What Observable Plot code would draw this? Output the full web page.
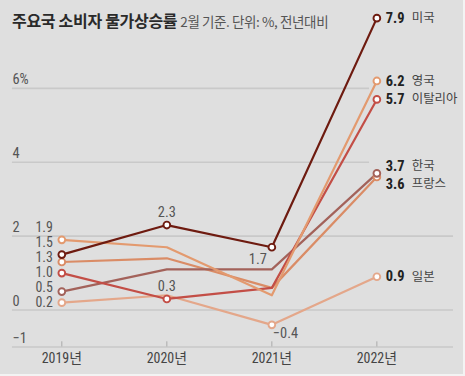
<!DOCTYPE html>
<html>
<head>
<meta charset="utf-8">
<script src="https://cdn.jsdelivr.net/npm/d3@7"></script>
<script src="https://cdn.jsdelivr.net/npm/@observablehq/plot@0.6"></script>
<style>
  html, body { margin: 0; padding: 0; background: #f3f3f3; }
  #wrap { position: relative; width: 463px; height: 374px; background: #dfdfdf; overflow: hidden; }
  #title { position: absolute; left: 12px; top: 8px; white-space: nowrap; font-family: "Noto Sans CJK KR", "Noto Sans", sans-serif; }
  #title b { font-size: 16px; font-weight: 700; color: #2a2a2a; letter-spacing: -0.3px; }
  #title span { font-size: 13.5px; color: #555; margin-left: 3px; letter-spacing: -0.4px; }
  #chart { position: absolute; left: 0; top: 0; }
</style>
</head>
<body>
<div id="wrap">
  <div id="chart"></div>
  <div id="title"><b>주요국 소비자 물가상승률</b><span>2월 기준. 단위: %, 전년대비</span></div>
</div>
<script>
// ---- data ----
const years = [2019, 2020, 2021, 2022];
const xTickLabels = ["2019년", "2020년", "2021년", "2022년"];
const countries = ["일본", "프랑스", "한국", "이탈리아", "영국", "미국"];
const japan  = [0.2, 0.4, -0.4, 0.9];
const france = [1.3, 1.4, 0.6, 3.6];
const korea  = [0.5, 1.1, 1.1, 3.7];
const italy  = [1.0, 0.3, 0.6, 5.7];
const uk     = [1.9, 1.7, 0.4, 6.2];
const us     = [1.5, 2.3, 1.7, 7.9];
const series = [japan, france, korea, italy, uk, us];
const colors = ["#e4a78a", "#da8c66", "#a3625a", "#c34e46", "#e39a6f", "#6e1b10"];
const yTicks = [-1, 0, 2, 4, 6];
const yTickLabels = ["−1", "0", "2", "4", "6%"];

// ---- build table ----
const rows = countries.flatMap((c, i) => years.map((yr, j) => ({country: c, year: yr, value: series[i][j]})));
const fmt = v => (v < 0 ? "−" : "") + Math.abs(v).toFixed(1);
const pick = (country, year) => rows.filter(r => r.country === country && r.year === year);

// annotated intermediate points
const calloutAbove = pick("미국", 2020).concat(pick("이탈리아", 2020));
const calloutBelowLeft = pick("미국", 2021);
const calloutBelowRight = pick("일본", 2021);
const markerRows = rows.filter(r => r.year === years[0] || r.year === years[3])
  .concat(calloutAbove, calloutBelowLeft, calloutBelowRight);

// de-overlap label positions (in data units)
function dodgeUp(vals, gap) {
  const s = vals.map((v, i) => ({v, i})).sort((a, b) => a.v - b.v);
  let prev = -Infinity;
  const out = [];
  for (const d of s) { const y = Math.max(d.v, prev + gap); out[d.i] = y; prev = y; }
  return out;
}
function dodgeSym(vals, gap) {
  const out = vals.slice();
  for (let it = 0; it < 50; it++) {
    const idx = out.map((v, i) => i).sort((a, b) => out[a] - out[b]);
    for (let k = 1; k < idx.length; k++) {
      const a = idx[k - 1], b = idx[k];
      const d = out[b] - out[a];
      if (d < gap) { const p = (gap - d) / 2; out[a] -= p; out[b] += p; }
    }
  }
  return out;
}
const firstVals = series.map(s => s[0]);
const lastVals = series.map(s => s[3]);
const firstY = dodgeUp(firstVals, 0.404);
const lastY = dodgeSym(lastVals, 0.48);
const leftLabels = countries.map((c, i) => ({country: c, value: firstVals[i], ly: firstY[i]}));
const rightLabels = countries.map((c, i) => ({country: c, value: lastVals[i], ly: lastY[i]}));

const numFont = "'Liberation Sans Narrow', 'Arial Narrow', 'Roboto Condensed', 'Liberation Sans', 'Noto Sans CJK KR', sans-serif";
const krFont = "'Noto Sans CJK KR', 'Liberation Sans Narrow', sans-serif";
const xDomain = [2018.53, 2022.73];

const chart = Plot.plot({
  width: 465,
  height: 376,
  marginLeft: 12,
  marginRight: 10,
  marginTop: 14,
  marginBottom: 28,
  style: {background: "transparent", fontFamily: numFont, overflow: "visible"},
  x: {domain: xDomain, axis: null},
  y: {domain: [-1, 8], axis: null},
  color: {domain: countries, range: colors},
  marks: [
    // gridlines
    Plot.ruleY(yTicks, {x1: xDomain[0], x2: d => d >= 4 ? 2021.93 : xDomain[1], stroke: "#c9c9c9", strokeWidth: 1.6}),
    // y tick labels
    Plot.text(yTicks, {x: xDomain[0], y: d => d, text: (d, i) => yTickLabels[i], textAnchor: "start", dy: -9, fontSize: 14.5, fill: "#555"}),
    // x ticks
    Plot.ruleX(years, {y1: -1, y2: -0.86, stroke: "#aaa", strokeWidth: 1}),
    Plot.text(years, {x: d => d, y: -1, text: (d, i) => xTickLabels[i], dy: 12, fontSize: 14, fill: "#444"}),
    // lines
    Plot.line(rows, {x: "year", y: "value", z: "country", stroke: "country", strokeWidth: 2.2}),
    // markers
    Plot.dot(markerRows, {x: "year", y: "value", stroke: "country", fill: "white", r: 3.4, strokeWidth: 1.9}),
    // callouts
    Plot.text(calloutAbove, {x: "year", y: "value", text: d => fmt(d.value), textAnchor: "middle", dy: -13, fontSize: 14.5, fill: "#555"}),
    Plot.text(calloutBelowLeft, {x: "year", y: "value", text: d => fmt(d.value), textAnchor: "end", dx: -5, dy: 12, fontSize: 14.5, fill: "#555"}),
    Plot.text(calloutBelowRight, {x: "year", y: "value", text: d => fmt(d.value), textAnchor: "start", dx: 1, dy: 9, fontSize: 14.5, fill: "#555"}),
    // left labels
    Plot.text(leftLabels, {x: years[0], y: "ly", text: d => fmt(d.value), textAnchor: "end", dx: -9, fontSize: 14, fill: "#555"}),
    // right labels
    Plot.text(rightLabels, {x: years[3], y: "ly", text: d => fmt(d.value), textAnchor: "start", dx: 9, fontSize: 14.5, fontWeight: "bold", fill: "#222"}),
    Plot.text(rightLabels, {x: years[3], y: "ly", text: "country", textAnchor: "start", dx: 35, fontSize: 12.5, fill: "#444", fontFamily: krFont})
  ]
});
document.getElementById("chart").appendChild(chart);
</script>
</body>
</html>
